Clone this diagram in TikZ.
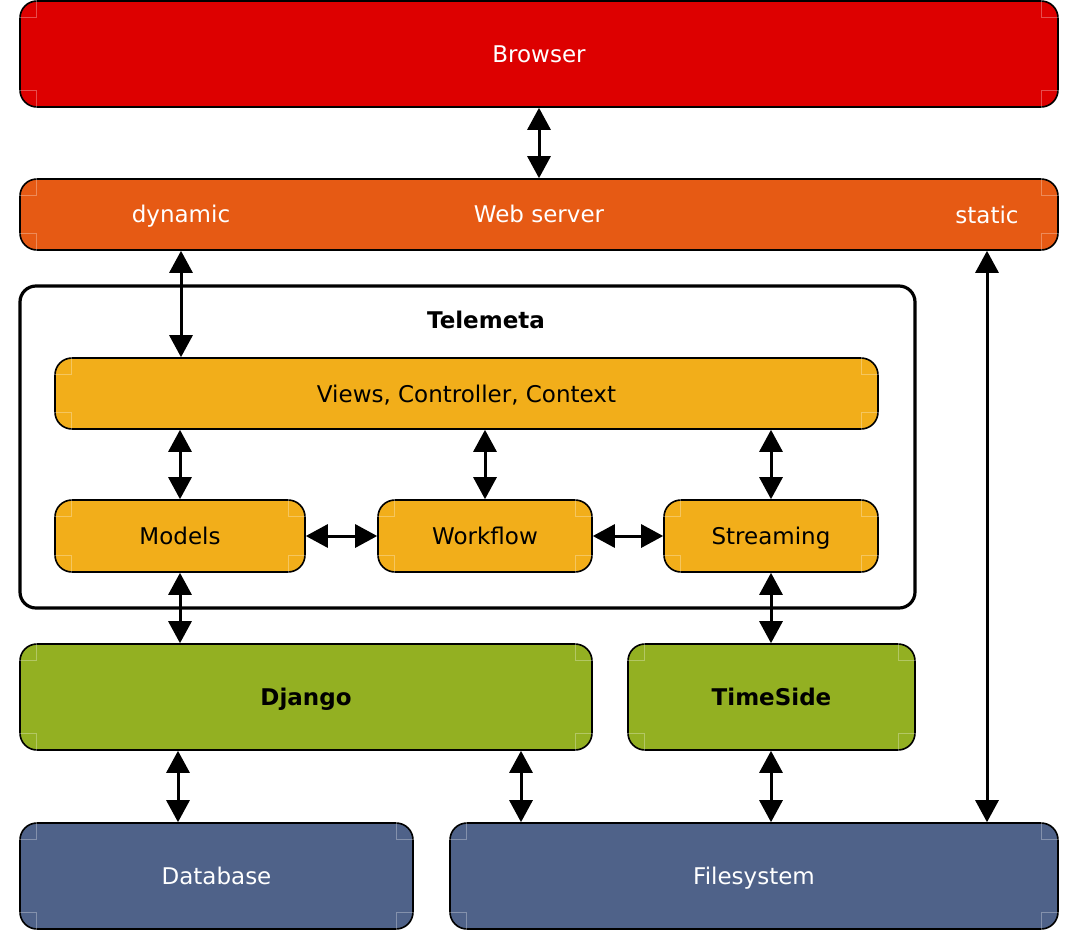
\documentclass[tikz,border=0pt]{standalone}
\usepackage{fontspec}
\setmainfont{DejaVu Sans}
\usetikzlibrary{arrows.meta}
\definecolor{cred}{RGB}{221,0,0}
\definecolor{corange}{RGB}{230,90,20}
\definecolor{cyellow}{RGB}{242,174,26}
\definecolor{cgreen}{RGB}{147,176,34}
\definecolor{cblue}{RGB}{79,98,137}
\tikzset{
  box/.style={draw=black, line width=1.6pt, rounded corners=17pt, inner sep=0pt,
    text height=17pt, text depth=0pt, font=\fontsize{23}{27}\selectfont},
  lbl/.style={inner sep=0pt, text height=17pt, text depth=0pt, font=\fontsize{23}{27}\selectfont},
  link/.style={line width=3pt, {Triangle[length=22pt,width=23pt]}-{Triangle[length=22pt,width=23pt]}},
  cornermark/.style={draw=white, draw opacity=0.3, line width=0.8pt}
}
\begin{document}
\begin{tikzpicture}[x=1pt,y=-1pt]
\useasboundingbox (0,0) rectangle (1074,930);
% outer Telemeta container
\draw[line width=3.2pt, rounded corners=16pt, fill=white] (20,286) rectangle (915,608);
\node[lbl, font=\fontsize{23}{27}\selectfont\bfseries] (telemeta) at (486,320) {Telemeta};
% boxes
\node[box, fill=cred, text=white, minimum width=1038pt, minimum height=106pt] (browser) at (539,54) {Browser};
\node[box, fill=corange, minimum width=1038pt, minimum height=71pt] (ws) at (539,214.5) {};
\node[lbl, text=white] (wstext) at (539,214) {Web server};
\node[lbl, text=white] (dyn) at (181,214) {dynamic};
\node[lbl, text=white] (stat) at (987,215) {static};
\node[box, fill=cyellow, minimum width=823pt, minimum height=71pt] (views) at (466.5,393.5) {Views, Controller, Context};
\node[box, fill=cyellow, minimum width=250pt, minimum height=72pt] (models) at (180,536) {Models};
\node[box, fill=cyellow, minimum width=214pt, minimum height=72pt] (workflow) at (485,536) {Workflow};
\node[box, fill=cyellow, minimum width=214pt, minimum height=72pt] (streaming) at (771,536) {Streaming};
\node[box, fill=cgreen, minimum width=572pt, minimum height=106pt, font=\fontsize{23}{27}\selectfont\bfseries] (django) at (306,697) {Django};
\node[box, fill=cgreen, minimum width=287pt, minimum height=106pt, font=\fontsize{23}{27}\selectfont\bfseries] (timeside) at (771.5,697) {TimeSide};
\node[box, fill=cblue, text=white, minimum width=393pt, minimum height=106pt] (db) at (216.5,876) {Database};
\node[box, fill=cblue, text=white, minimum width=608pt, minimum height=106pt] (fs) at (754,876) {Filesystem};
% faint corner marks
\foreach \n in {browser,ws,views,models,workflow,streaming,django,timeside,db,fs}{
  \draw[cornermark] ([xshift=17pt]\n.north west) -- ++(0,17) -- ++(-17,0);
  \draw[cornermark] ([xshift=17pt]\n.south west) -- ++(0,-17) -- ++(-17,0);
  \draw[cornermark] ([xshift=-17pt]\n.north east) -- ++(0,17) -- ++(17,0);
  \draw[cornermark] ([xshift=-17pt]\n.south east) -- ++(0,-17) -- ++(17,0);
}
% connectors
\coordinate (dbx) at (178,0);
\coordinate (dfs) at (521,0);
\draw[link] (browser.south) -- (ws.north);
\draw[link] (ws.south -| dyn) -- (views.north -| dyn);
\draw[link] (ws.south -| stat) -- (fs.north -| stat);
\draw[link] (views.south -| models) -- (models.north);
\draw[link] (views.south -| workflow) -- (workflow.north);
\draw[link] (views.south -| streaming) -- (streaming.north);
\draw[link] (models.east) -- (workflow.west);
\draw[link] (workflow.east) -- (streaming.west);
\draw[link] (models.south) -- (django.north -| models);
\draw[link] (streaming.south) -- (timeside.north -| streaming);
\draw[link] (django.south -| dbx) -- (db.north -| dbx);
\draw[link] (django.south -| dfs) -- (fs.north -| dfs);
\draw[link] (timeside.south -| streaming) -- (fs.north -| streaming);
\end{tikzpicture}
\end{document}
